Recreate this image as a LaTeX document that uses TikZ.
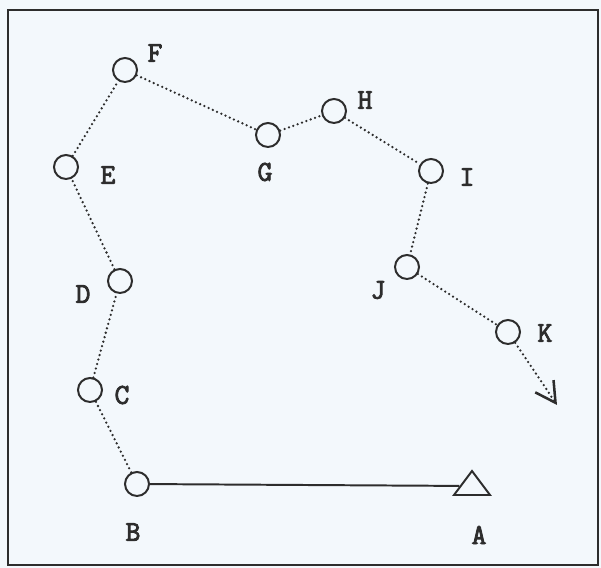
\documentclass[tikz,border=0pt]{standalone}
\usepackage{fontspec}
\newfontfamily\lblfont{Latin Modern Mono}[FakeBold=3]
\usetikzlibrary{arrows.meta,shapes.geometric}
\definecolor{paper}{RGB}{243,248,252}
\definecolor{ink}{RGB}{45,45,45}

\begin{document}
\begin{tikzpicture}[>={Straight Barb[length=5mm,width=5.5mm]},
    stn/.style={draw=ink,circle,line width=1.4pt,minimum size=6mm,inner sep=0pt},
    lbl/.style={text=ink,font=\lblfont\fontsize{20.5}{20.5}\selectfont,inner sep=0pt},
    dotline/.style={draw=ink,line width=1.8pt,line cap=round,dash pattern=on 0pt off 3.3pt}]
    \fill[paper] (0,0) rectangle (15.025,14.2);
    \useasboundingbox (0,0) rectangle (15.025,14.2);
    \draw[ink,line width=1.3pt] (0.2,0.075) rectangle (14.95,13.95);
    % stations
    \node[stn] (f) at (3.125,12.45) {};
    \node[stn] (e) at (1.65,10.025) {};
    \node[stn] (d) at (3.0,7.175) {};
    \node[stn] (c) at (2.25,4.45) {};
    \node[stn] (b) at (3.425,2.1) {};
    \node[stn] (g) at (6.7,10.825) {};
    \node[stn] (h) at (8.35,11.425) {};
    \node[stn] (i) at (10.775,9.925) {};
    \node[stn] (j) at (10.175,7.525) {};
    \node[stn] (k) at (12.7,5.9) {};
    \node[draw=ink,line width=1.4pt,isosceles triangle,isosceles triangle stretches,
          shape border rotate=90,minimum width=9mm,minimum height=6mm,inner sep=0pt] (a) at (11.8,2.05) {};
    \coordinate (kend) at (13.925,4.075);
    % labels
    \node[lbl] (fl) at (3.875,12.875) {F};
    \node[lbl] (el) at (2.7,9.825) {E};
    \node[lbl] (gl) at (6.625,9.9) {G};
    \node[lbl] (hl) at (9.125,11.7) {H};
    \node[lbl] (il) at (11.675,9.775) {I};
    \node[lbl] (dl) at (2.075,6.85) {D};
    \node[lbl] (cl) at (3.05,4.325) {C};
    \node[lbl] (jl) at (9.45,6.95) {J};
    \node[lbl] (kl) at (13.625,5.875) {K};
    \node[lbl] (bl) at (3.325,0.9) {B};
    \node[lbl] (al) at (11.975,0.825) {A};
    % traverse
    \draw[ink,line width=1.4pt] (b) -- (a);
    \draw[dotline] (b) -- (c) -- (d) -- (e) -- (f) -- (g) -- (h) -- (i) -- (j) -- (k);
    \draw[dotline,->] (k) -- (kend);
\end{tikzpicture}
\end{document}
